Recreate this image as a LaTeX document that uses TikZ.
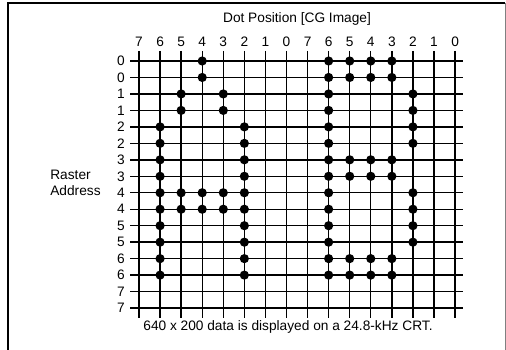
\documentclass[tikz,border=0pt]{standalone}
\usepackage{fontspec}
\setmainfont{Liberation Sans}
\usetikzlibrary{positioning}

\tikzset{
  lbl/.style={font=\fontsize{7.8}{9}\selectfont, inner sep=0pt},
  gridline/.style={line width=0.8pt},
  dotfill/.style={fill=black},
}

\begin{document}
\begin{tikzpicture}[x=0.02cm,y=-0.02cm]
 \useasboundingbox (0,0) rectangle (506,350);
 % frame
 \draw[line width=1.1pt](8,350)--(8,3)--(505,3);
 \draw[gray,line width=0.5pt](505,3)--(505,350);
 % grid
 \foreach \i in {0,...,15} \draw[gridline](139+21.07*\i,51)--(139+21.07*\i,318);
 \foreach \j in {0,...,15} \draw[gridline](130,61+16.47*\j)--(463,61+16.47*\j);
 % labels
 \node[lbl] (title) at (297,19) {Dot Position [CG Image]};
 \foreach \i [evaluate=\i as \lab using {int(7-mod(\i,8))}] in {0,...,15}
   \node[lbl] (c\i) at (139+21.07*\i,42) {\lab};
 \foreach \j [evaluate=\j as \lab using {int(\j/2)}] in {0,...,15}
   \node[lbl,anchor=east] (r\j) at (125,61+16.47*\j) {\lab};
 \node[lbl,anchor=west,align=left] (raster) at (50,183) {Raster\\Address};
 \node[lbl] (note) at (288,327) {640 x 200 data is displayed on a 24.8-kHz CRT.};
 % dots
 \foreach \j/\cols in {0/{3,9,10,11,12},1/{3,9,10,11,12},2/{2,4,9,13},3/{2,4,9,13},
   4/{1,5,9,13},5/{1,5,9,13},6/{1,5,9,10,11,12},7/{1,5,9,10,11,12},
   8/{1,2,3,4,5,9,13},9/{1,2,3,4,5,9,13},10/{1,5,9,13},11/{1,5,9,13},
   12/{1,5,9,10,11,12},13/{1,5,9,10,11,12}}
   \foreach \i in \cols \fill[dotfill](139+21.07*\i,61+16.47*\j) circle (4.6);
\end{tikzpicture}
\end{document}
